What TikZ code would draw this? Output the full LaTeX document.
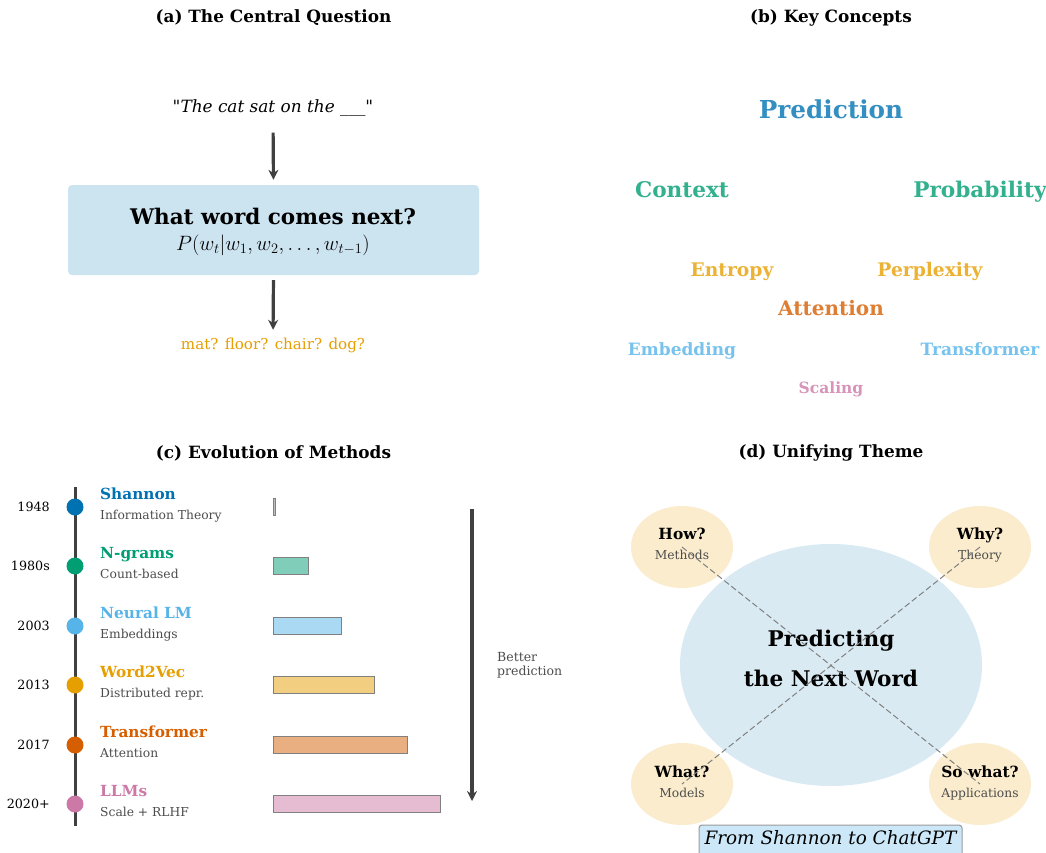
\documentclass[tikz,border=0pt]{standalone}
\usepackage[no-math]{fontspec}
\setmainfont{DejaVu Serif}
\usetikzlibrary{shapes.geometric,arrows.meta}

\definecolor{okblue}{HTML}{0072B2}
\definecolor{okgreen}{HTML}{009E73}
\definecolor{oksky}{HTML}{56B4E9}
\definecolor{okorange}{HTML}{E69F00}
\definecolor{okverm}{HTML}{D55E00}
\definecolor{okpink}{HTML}{CC79A7}
\definecolor{darkline}{HTML}{404040}
\definecolor{subgray}{HTML}{4D4D4D}

\newcommand{\fs}[1]{\fontsize{#1}{#1}\selectfont}

\tikzset{
  paneltitle/.style={inner sep=0pt, font=\fs{16.9}\bfseries},
  txt/.style={inner sep=0pt, anchor=base},
  flowarrow/.style={draw=darkline, line width=3.2pt, -{Stealth[length=10pt,width=10pt]}},
  concept/.style={inner sep=0pt, anchor=base},
  yearlabel/.style={inner sep=0pt, anchor=base east, font=\fs{12.7}},
  methodname/.style={inner sep=0pt, anchor=base west, font=\fs{15.3}\bfseries},
  methoddesc/.style={inner sep=0pt, anchor=base west, font=\fs{12.3}, text=subgray},
  dot/.style={circle, inner sep=0pt, minimum size=17pt},
  bar/.style={rectangle, inner sep=0pt, anchor=west, minimum height=17pt, draw=gray, line width=1pt},
  bubble/.style={ellipse, inner sep=0pt, minimum width=102pt, minimum height=82pt, fill=okorange!20!white},
  bubblehead/.style={inner sep=0pt, anchor=base, font=\fs{15.4}\bfseries},
  bubblesub/.style={inner sep=0pt, anchor=base, font=\fs{12.3}, text=subgray},
  link/.style={draw=gray, line width=1pt, dash pattern=on 6pt off 3pt},
}

\begin{document}
\begin{tikzpicture}[x=1pt, y=-1pt]
\clip (0,0) rectangle (1046,852);
\fill[white] (0,0) rectangle (1046,852);

% ---------- (a) The Central Question ----------
\node[paneltitle] (ta) at (273.5,18) {(a) The Central Question};
\node[txt, font=\fs{16.9}] (quote) at (273,112.5) {\textquotedbl\textit{The cat sat on the \_\_\_}\textquotedbl};
\node[rectangle, rounded corners=4pt, fill=okblue!20!white, minimum width=411pt, minimum height=90pt, inner sep=0pt] (qbox) at (273.5,230) {};
\node[txt, font=\fs{21.5}\bfseries] (qtext) at (273,224) {What word comes next?};
\node[txt, font=\fs{19.5}] (qformula) at (273,250) {$P(w_t|w_1, w_2, \ldots, w_{t-1})$};
\node[txt, font=\fs{15.1}, text=okorange] (answers) at (273,349.5) {mat? floor? chair? dog?};
\draw[flowarrow, shorten <=16pt, shorten >=5pt] (quote.south) -- (qbox.north);
\draw[flowarrow, shorten <=5pt, shorten >=8pt] (qbox.south) -- (answers.north);

% ---------- (b) Key Concepts ----------
\node[paneltitle] (tb) at (831,18) {(b) Key Concepts};
\node[concept, font=\fs{24.7}\bfseries, text=okblue!80!white] (kpred) at (831,118.3) {Prediction};
\node[concept, font=\fs{21.6}\bfseries, text=okgreen!80!white] (kctx) at (682,197.3) {Context};
\node[concept, font=\fs{21.6}\bfseries, text=okgreen!80!white] (kprob) at (980,197.3) {Probability};
\node[concept, font=\fs{18.7}\bfseries, text=okorange!80!white] (kent) at (732,276) {Entropy};
\node[concept, font=\fs{18.7}\bfseries, text=okorange!80!white] (kperp) at (930,276) {Perplexity};
\node[concept, font=\fs{20}\bfseries, text=okverm!80!white] (katt) at (831,315) {Attention};
\node[concept, font=\fs{17}\bfseries, text=oksky!80!white] (kemb) at (682,355) {Embedding};
\node[concept, font=\fs{17}\bfseries, text=oksky!80!white] (ktrans) at (980,355) {Transformer};
\node[concept, font=\fs{15.5}\bfseries, text=okpink!80!white] (kscale) at (831,393.3) {Scaling};

% ---------- (c) Evolution of Methods ----------
\node[paneltitle] (tc) at (273.5,453) {(c) Evolution of Methods};
\coordinate (ltop) at (75,487);
\coordinate (lbot) at (75,826);
\draw[darkline, line width=3pt] (ltop) -- (lbot);

\foreach \name/\yr/\y/\col/\barcol/\title/\desc/\w in {
  shannon/1948/507/okblue/gray/Shannon/Information Theory/2,
  ngram/1980s/566/okgreen/okgreen/N-grams/Count-based/35,
  neural/2003/626/oksky/oksky/Neural LM/Embeddings/68,
  wvec/2013/685/okorange/okorange/Word2Vec/Distributed repr./101,
  transf/2017/745/okverm/okverm/Transformer/Attention/134,
  llm/2020+/804/okpink/okpink/LLMs/Scale + RLHF/167}{
  \node[dot, fill=\col] (d-\name) at (75,\y) {};
  \node[yearlabel] (y-\name) at (50,\y+4.7) {\yr};
  \node[methodname, text=\col] (n-\name) at (100,\y-7.7) {\title};
  \node[methoddesc] (s-\name) at (100,\y+12.3) {\desc};
  \node[bar, fill=\barcol!50!white, minimum width=\w pt] (b-\name) at (273,\y) {};
}

\coordinate (btop) at (472,509);
\coordinate (bbot) at (472,801);
\draw[flowarrow] (btop) -- (bbot);
\node[inner sep=0pt, anchor=west, align=left, font=\fontsize{12.5}{14}\selectfont, text=subgray] (better) at (497,665) {Better\\prediction};

% ---------- (d) Unifying Theme ----------
\node[paneltitle] (td) at (831,453) {(d) Unifying Theme};
\node[ellipse, inner sep=0pt, minimum width=302pt, minimum height=242pt, fill=okblue!15!white] (core) at (831,665) {};
\node[bubble] (how) at (682,547) {};
\node[bubble] (why) at (980,547) {};
\node[bubble] (what) at (682,784) {};
\node[bubble] (sowhat) at (980,784) {};

\node[txt, font=\fs{21.6}\bfseries] (theme1) at (831,646.7) {Predicting};
\node[txt, font=\fs{21.6}\bfseries] (theme2) at (831,686) {the Next Word};

\node[bubblehead] (howh) at (682,539.3) {How?};
\node[bubblesub] (hows) at (682,559.3) {Methods};
\node[bubblehead] (whyh) at (980,539.3) {Why?};
\node[bubblesub] (whys) at (980,559.3) {Theory};
\node[bubblehead] (whath) at (682,777.3) {What?};
\node[bubblesub] (whats) at (682,797.3) {Models};
\node[bubblehead] (sowhath) at (980,777.3) {So what?};
\node[bubblesub] (sowhats) at (980,797.3) {Applications};

\draw[link] (how.center) -- (sowhat.center);
\draw[link] (why.center) -- (what.center);

\node[rectangle, rounded corners=3pt, draw=gray!80, line width=1pt, fill=oksky!30!white, minimum width=263pt, minimum height=32pt, inner sep=0pt] (motto) at (830.5,841) {};
\node[txt, font=\fs{18.4}\itshape] (mottotext) at (830.5,844) {From Shannon to ChatGPT};
\end{tikzpicture}
\end{document}
